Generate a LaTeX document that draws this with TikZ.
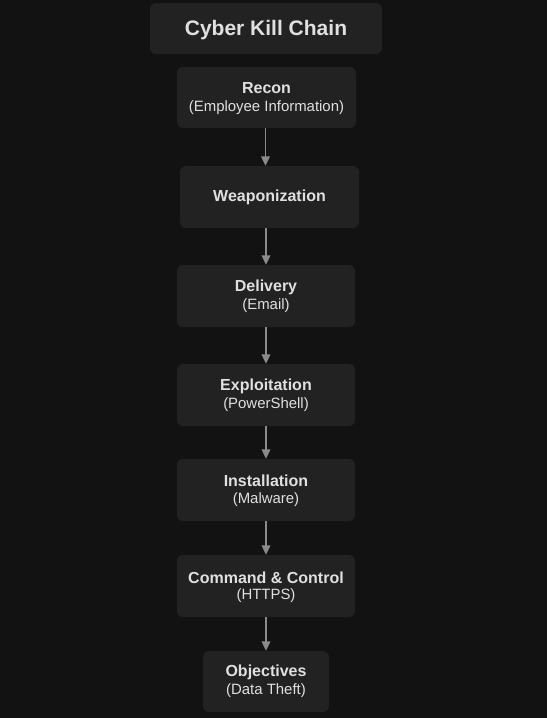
\documentclass[tikz,border=0pt]{standalone}
\usepackage{fontspec}
\setmainfont{Liberation Sans}
\usetikzlibrary{arrows.meta}
\definecolor{bg}{HTML}{121212}
\definecolor{boxfill}{HTML}{222222}
\definecolor{txt}{HTML}{E0E0E0}
\definecolor{arrowc}{HTML}{8A8A8A}
\tikzset{
  stepbox/.style={fill=boxfill, draw=none, rounded corners=4.5pt, inner sep=0pt,
    minimum width=179*0.75pt, minimum height=62*0.75pt},
  maintxt/.style={text=txt, font=\bfseries\fontsize{12pt}{14pt}\selectfont, inner sep=0pt},
  subtxt/.style={text=txt, font=\fontsize{11.2pt}{13pt}\selectfont, inner sep=0pt},
  arr/.style={draw=arrowc, line width=1pt, -{Triangle[width=6.5pt,length=7pt]}},
}
\begin{document}
\begin{tikzpicture}[x=0.75pt, y=-0.75pt]
\fill[bg] (0,0) rectangle (547,718);
\useasboundingbox (0,0) rectangle (547,718);

% title
\node[stepbox, minimum width=232*0.75pt, minimum height=51*0.75pt] (title) at (266,28.5) {};
\node[text=txt, font=\bfseries\fontsize{15.75pt}{18pt}\selectfont, inner sep=0pt] (titletxt) at (266,30) {Cyber Kill Chain};

% steps
\node[stepbox, minimum height=61*0.75pt] (recon) at (266.5,97.5) {};
\node[maintxt] (recont) at (266.5,88.5) {Recon};
\node[subtxt] (recons) at (266.5,107.5) {(Employee Information)};

\node[stepbox] (weap) at (269.5,197) {};
\node[maintxt] (weapt) at (269.5,197.5) {Weaponization};

\node[stepbox, minimum width=178*0.75pt] (deliv) at (266,296) {};
\node[maintxt] (delivt) at (266,287) {Delivery};
\node[subtxt] (delivs) at (266,306) {(Email)};

\node[stepbox, minimum width=178*0.75pt] (expl) at (266,395) {};
\node[maintxt] (explt) at (266,386) {Exploitation};
\node[subtxt] (expls) at (266,405) {(PowerShell)};

\node[stepbox, minimum width=178*0.75pt] (inst) at (266,490) {};
\node[maintxt] (instt) at (266,481) {Installation};
\node[subtxt] (insts) at (266,500) {(Malware)};

\node[stepbox, minimum width=178*0.75pt] (cc) at (266,586) {};
\node[maintxt] (cct) at (266,577.5) {Command \& Control};
\node[subtxt] (ccs) at (266,596) {(HTTPS)};

\node[stepbox, minimum width=126*0.75pt, minimum height=61*0.75pt] (obj) at (266,681.5) {};
\node[maintxt] (objt) at (266,672) {Objectives};
\node[subtxt] (objs) at (266,691) {(Data Theft)};

% arrows
\draw[arr] ([xshift=-0.75pt]recon.south) -- ([xshift=-0.75pt]recon.south |- weap.north);
\draw[arr] (deliv.north |- weap.south) -- (deliv.north);
\draw[arr] (deliv.south) -- (expl.north);
\draw[arr] (expl.south) -- (inst.north);
\draw[arr] (inst.south) -- (cc.north);
\draw[arr] (cc.south) -- (obj.north);
\end{tikzpicture}
\end{document}
